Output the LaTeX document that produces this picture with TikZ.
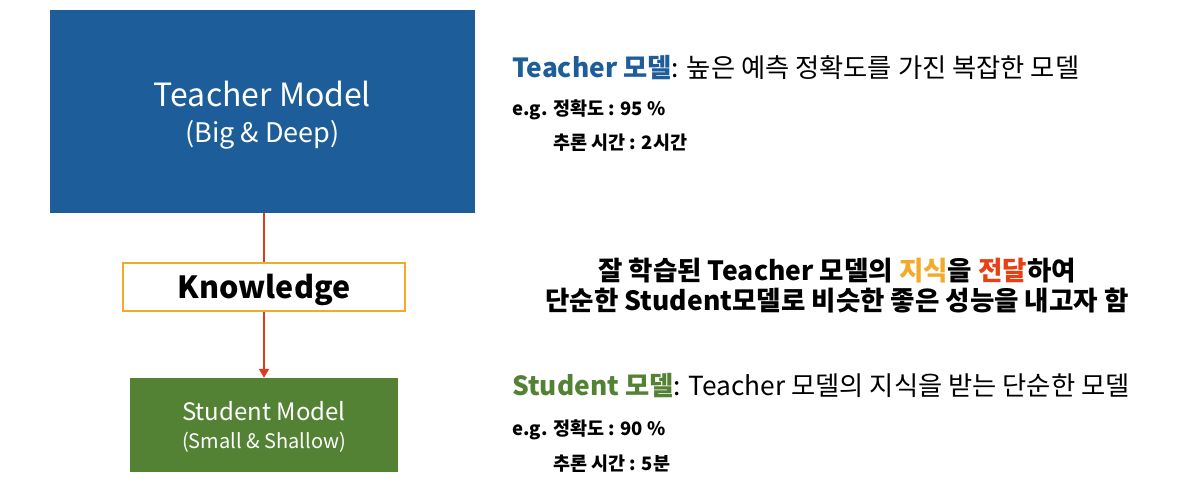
\documentclass[tikz,border=0pt]{standalone}
\usepackage{fontspec}
\setmainfont{Noto Sans CJK KR}
\usetikzlibrary{arrows.meta}
\definecolor{tblue}{RGB}{29,93,153}
\definecolor{sgreen}{RGB}{84,130,53}
\definecolor{korange}{RGB}{242,170,40}
\definecolor{ared}{RGB}{222,58,28}
\definecolor{tred}{RGB}{232,64,20}
\tikzset{
  modelbox/.style={draw=none, inner sep=0},
  boxtext/.style={inner sep=0, text=white, align=center},
  knowbox/.style={draw=korange, line width=2.5pt, fill=white, inner sep=0},
  flow/.style={draw=ared, line width=1.6pt},
  desc/.style={anchor=west, inner sep=0, font=\fontsize{26.3}{30}\selectfont},
  eg/.style={anchor=west, inner sep=0, font=\bfseries\fontsize{18.5}{22}\selectfont},
}
\begin{document}
\begin{tikzpicture}[x=1pt,y=-1pt]
\useasboundingbox[fill=white] (0,0) rectangle (1190,493);
% boxes
\node[modelbox, fill=tblue, minimum width=425pt, minimum height=203pt] (teacher) at (262.5,111.5) {};
\node[boxtext, font=\fontsize{32}{36}\selectfont] (teachertxt) at ([yshift=-4pt]teacher.center)
  {Teacher Model\\\fontsize{27}{36}\selectfont (Big \& Deep)};
\node[knowbox, minimum width=282pt, minimum height=48pt] (know) at (264,287) {};
\node[inner sep=0, font=\bfseries\fontsize{30.5}{34}\selectfont] (knowtxt) at ([yshift=-3pt]know.center) {Knowledge};
\node[modelbox, fill=sgreen, minimum width=268pt, minimum height=94pt] (student) at (264,425) {};
\node[boxtext, font=\fontsize{24}{28}\selectfont] (studenttxt) at ([yshift=-1.5pt]student.center)
  {Student Model\\\fontsize{20}{28}\selectfont (Small \& Shallow)};
% connectors
\draw[flow] (teacher.south -| know.north) -- (know.north);
\draw[flow, -{Triangle[length=9pt,width=10pt]}] (know.south) -- (student.north);
% right side texts
\node[desc] (tdesc) at (512,68) {\textcolor{tblue}{\bfseries Teacher 모델}: 높은 예측 정확도를 가진 복잡한 모델};
\node[eg] (teg1) at (512,110) {e.g. 정확도 : 95 \%};
\node[eg] (teg2) at (553,143) {추론 시간 : 2시간};
\node[align=center, inner sep=0, font=\bfseries\fontsize{26.5}{30}\selectfont] (mid) at (837,286)
  {잘 학습된 Teacher 모델의 \textcolor{korange}{지식}을 \textcolor{tred}{전달}하여\\단순한 Student모델로 비슷한 좋은 성능을 내고자 함};
\node[desc] (sdesc) at (512,386) {\textcolor{sgreen}{\bfseries Student 모델}: Teacher 모델의 지식을 받는 단순한 모델};
\node[eg] (seg1) at (512,430) {e.g. 정확도 : 90 \%};
\node[eg] (seg2) at (553,464) {추론 시간 : 5분};
\end{tikzpicture}
\end{document}
